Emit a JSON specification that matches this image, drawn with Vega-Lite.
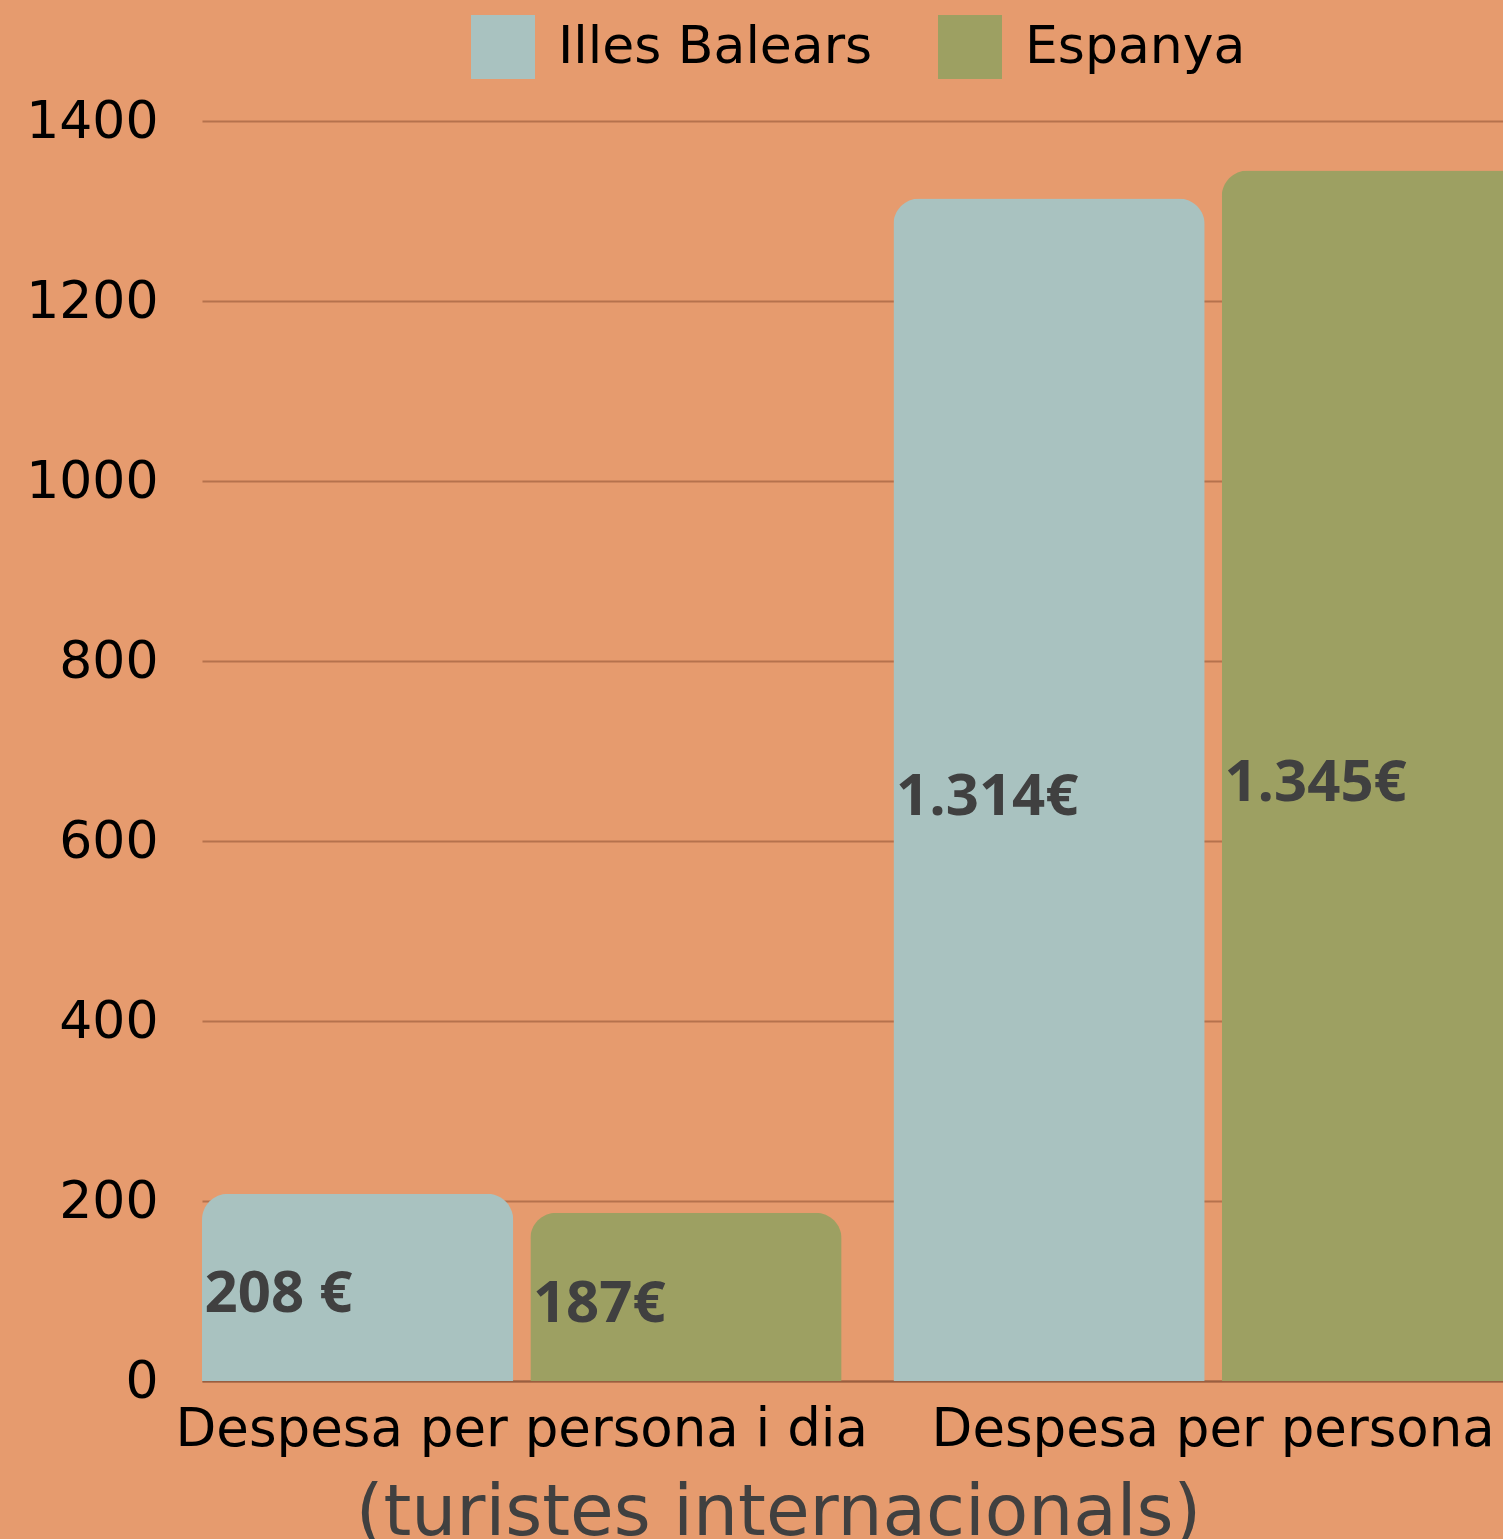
{
  "$schema": "https://vega.github.io/schema/vega-lite/v6.json",
  "autosize": {"type": "none"},
  "padding": {"left": 202, "top": 121, "right": 0, "bottom": 158},
  "width": 1301,
  "height": 1260,
  "background": "#E69B6E",
  "config": {
    "view": {"stroke": null},
    "font": "DejaVu Sans"
  },
  "data": {
    "values": [
      {"group": "Despesa per persona i dia", "series": "Illes Balears", "value": 208, "label": "208 €"},
      {"group": "Despesa per persona i dia", "series": "Espanya", "value": 187, "label": "187€"},
      {"group": "Despesa per persona", "series": "Illes Balears", "value": 1314, "label": "1.314€"},
      {"group": "Despesa per persona", "series": "Espanya", "value": 1345, "label": "1.345€"}
    ]
  },
  "encoding": {
    "x": {
      "field": "group",
      "type": "nominal",
      "sort": ["Despesa per persona i dia", "Despesa per persona"],
      "scale": {"range": [0, 1331], "paddingInner": 0.075, "paddingOuter": 0},
      "axis": {
        "title": "(turistes internacionals)",
        "titleFontSize": 71,
        "titleColor": "#404040",
        "titleFontWeight": "normal",
        "titleX": 576,
        "titleY": 97,
        "titleAlign": "center",
        "titleBaseline": "top",
        "labelFontSize": 53,
        "labelColor": "#000000",
        "labelPadding": 22,
        "labelAngle": 0,
        "labelLimit": 0,
        "ticks": false,
        "domain": true,
        "domainColor": "#9A5E40",
        "domainWidth": 2
      }
    },
    "xOffset": {
      "field": "series",
      "type": "nominal",
      "sort": ["Illes Balears", "Espanya"],
      "scale": {"paddingInner": 0.052, "paddingOuter": 0}
    }
  },
  "layer": [
    {
      "mark": {"type": "bar", "cornerRadiusTopLeft": 26, "cornerRadiusTopRight": 26},
      "encoding": {
        "y": {
          "field": "value",
          "type": "quantitative",
          "scale": {"domain": [0, 1400], "nice": false},
          "axis": {
            "title": null,
            "values": [0, 200, 400, 600, 800, 1000, 1200, 1400],
            "format": "d",
            "labelFontSize": 52,
            "labelColor": "#000000",
            "labelPadding": 44,
            "ticks": false,
            "domain": false,
            "grid": true,
            "gridColor": "#B5724D",
            "gridWidth": 2
          }
        },
        "color": {
          "field": "series",
          "type": "nominal",
          "sort": ["Illes Balears", "Espanya"],
          "scale": {"domain": ["Illes Balears", "Espanya"], "range": ["#A9C2C0", "#9DA062"]},
          "legend": {
            "title": null,
            "orient": "none",
            "legendX": 269,
            "legendY": -106,
            "direction": "horizontal",
            "symbolType": "square",
            "symbolSize": 4096,
            "symbolStrokeWidth": 0,
            "symbolOpacity": 1,
            "labelFontSize": 52,
            "labelColor": "#000000",
            "labelOffset": 23,
            "columnPadding": 65,
            "padding": 0,
            "labelLimit": 0
          }
        }
      }
    },
    {
      "transform": [{"calculate": "datum.value / 2", "as": "mid"}],
      "mark": {"type": "text", "align": "left", "baseline": "middle", "dx": -153, "dy": 8, "fontSize": 58, "fontWeight": "bold", "color": "#404040", "font": "Open Sans"},
      "encoding": {
        "y": {"field": "mid", "type": "quantitative"},
        "text": {"field": "label"}
      }
    }
  ]
}
